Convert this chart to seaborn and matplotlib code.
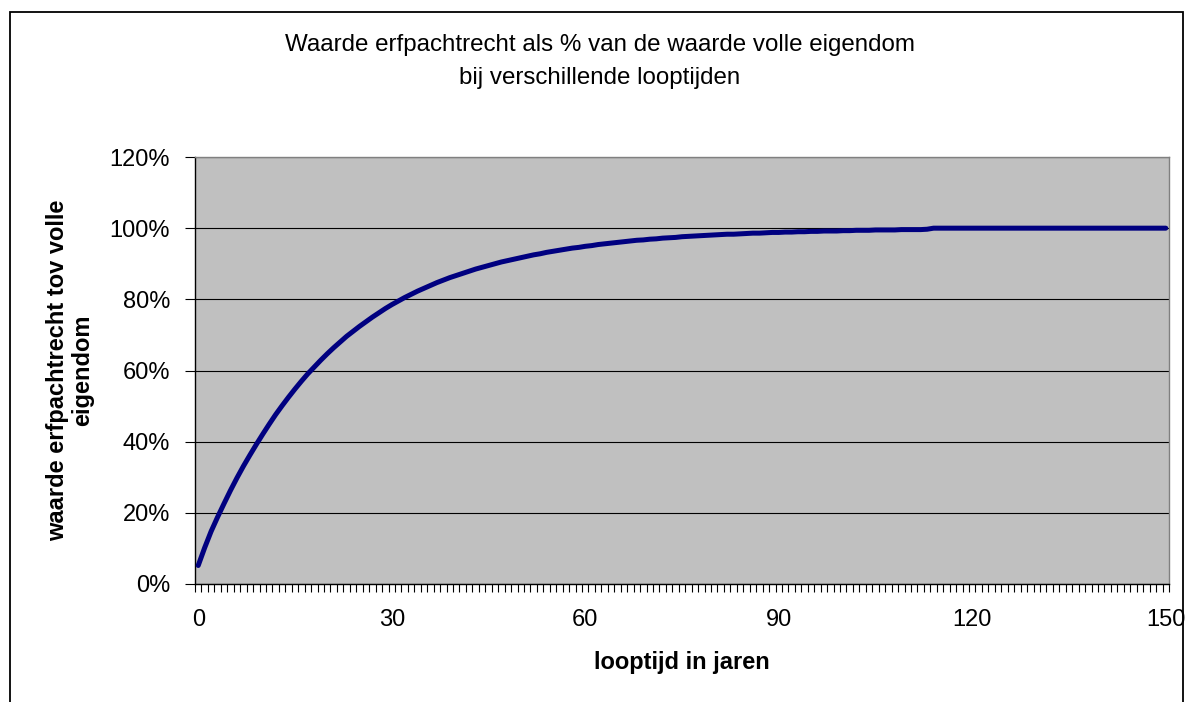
# ERFPACHT VALUE CURVE (Excel-style line chart)

import numpy as np
import pandas as pd
import matplotlib
matplotlib.use("Agg")
import matplotlib.pyplot as plt
import matplotlib.patches as mpatches
from matplotlib.ticker import FuncFormatter
import seaborn as sns

# DATA (value in % per year of remaining term)

years = list(range(0, 151))

values = [
    5.2, 10.2, 14.8, 18.8, 22.6, 26.3, 29.8, 33.1, 36.2, 39.2,
    42.1, 44.9, 47.6, 50.1, 52.5, 54.8, 57.0, 59.1, 61.0, 62.9,
    64.7, 66.4, 68.0, 69.6, 71.0, 72.4, 73.7, 75.0, 76.2, 77.4,
    78.5, 79.5, 80.5, 81.4, 82.3, 83.1, 83.9, 84.7, 85.4, 86.1,
    86.7, 87.3, 87.9, 88.5, 89.0, 89.5, 90.0, 90.5, 90.9, 91.3,
    91.7, 92.1, 92.5, 92.8, 93.2, 93.5, 93.8, 94.1, 94.4, 94.6,
    94.9, 95.1, 95.4, 95.6, 95.8, 96.0, 96.2, 96.4, 96.6, 96.7,
    96.9, 97.0, 97.2, 97.3, 97.4, 97.6, 97.7, 97.8, 97.9, 98.0,
    98.1, 98.2, 98.3, 98.3, 98.4, 98.5, 98.6, 98.6, 98.7, 98.8,
    98.8, 98.9, 98.9, 99.0, 99.0, 99.1, 99.1, 99.2, 99.2, 99.2,
    99.3, 99.3, 99.4, 99.4, 99.4, 99.5, 99.5, 99.5, 99.5, 99.6,
    99.6, 99.6, 99.6, 99.7, 100.0, 100.0, 100.0, 100.0, 100.0, 100.0,
    100.0, 100.0, 100.0, 100.0, 100.0, 100.0, 100.0, 100.0, 100.0, 100.0,
    100.0, 100.0, 100.0, 100.0, 100.0, 100.0, 100.0, 100.0, 100.0, 100.0,
    100.0, 100.0, 100.0, 100.0, 100.0, 100.0, 100.0, 100.0, 100.0, 100.0,
    100.0,
]

x_labels = [0, 30, 60, 90, 120, 150]
y_ticks = [0, 20, 40, 60, 80, 100, 120]

title_lines = [
    "Waarde erfpachtrecht als % van de waarde volle eigendom",
    "bij verschillende looptijden",
]
y_title = "waarde erfpachtrecht tov volle\neigendom"
x_title = "looptijd in jaren"

df = pd.DataFrame({"jaar": years, "waarde": np.array(values) / 100})

# STYLE

sns.set_style("white")
plt.rcParams["font.family"] = ["Liberation Sans", "DejaVu Sans"]
plt.rcParams["text.color"] = "black"
plt.rcParams["xtick.color"] = "black"
plt.rcParams["ytick.color"] = "black"

FS = 17

W, H = 1189, 702
fig = plt.figure(figsize=(W / 100, H / 100), dpi=100)
fig.patch.set_facecolor("white")

# outer chart border (bottom edge runs off the picture)
fig.patches.append(mpatches.Rectangle(
    (10 / W, -0.05), (1183 - 10) / W, 1.05 - 12 / H,
    transform=fig.transFigure, fill=False, edgecolor="black", linewidth=1.3
))

left, right, top, bottom = 195, 1169, 157, 584
ax = fig.add_axes([left / W, 1 - bottom / H, (right - left) / W, (bottom - top) / H])
ax.set_facecolor("#C0C0C0")

# LINE

sns.lineplot(
    data=df,
    x="jaar",
    y="waarde",
    ax=ax,
    color="#000080",
    linewidth=3.6,
    solid_capstyle="round",
    solid_joinstyle="round",
    zorder=3,
)

# AXES

ax.set_xlim(-0.5, 150.5)
ax.set_ylim(0, 1.2)

ax.set_yticks([t / 100 for t in y_ticks])
ax.yaxis.set_major_formatter(FuncFormatter(lambda v, p: f"{v * 100:.0f}%"))
ax.yaxis.grid(True, color="black", linewidth=0.8)
ax.set_axisbelow(True)

ax.set_xticks(x_labels)
ax.set_xticks(np.arange(-0.5, 151, 1), minor=True)
ax.tick_params(axis="x", which="major", length=0, pad=18, labelsize=FS, labelcolor="black")
ax.tick_params(axis="x", which="minor", length=6, width=0.8, direction="out", bottom=True, color="black")
ax.tick_params(axis="y", which="major", length=7, width=0.8, pad=11, labelsize=FS,
               left=True, color="black", labelcolor="black")

ax.set_xlabel("")
ax.set_ylabel("")

for side in ["left", "bottom"]:
    ax.spines[side].set_color("black")
    ax.spines[side].set_linewidth(1.0)
for side in ["top", "right"]:
    ax.spines[side].set_visible(True)
    ax.spines[side].set_color("#808080")
    ax.spines[side].set_linewidth(1.0)

# TEXTS

fig.text(600 / W, 1 - 45 / H, title_lines[0], ha="center", va="center", fontsize=17.4, color="black")
fig.text(600 / W, 1 - 78 / H, title_lines[1], ha="center", va="center", fontsize=17.4, color="black")

fig.text(682 / W, 1 - 662 / H, x_title, ha="center", va="center",
         fontsize=FS, fontweight="bold", color="black")
fig.text(70 / W, 1 - 370 / H, y_title, ha="center", va="center", rotation=90,
         multialignment="center", fontsize=FS, fontweight="bold", linespacing=1.1, color="black")

fig.savefig("out.png", dpi=100)
